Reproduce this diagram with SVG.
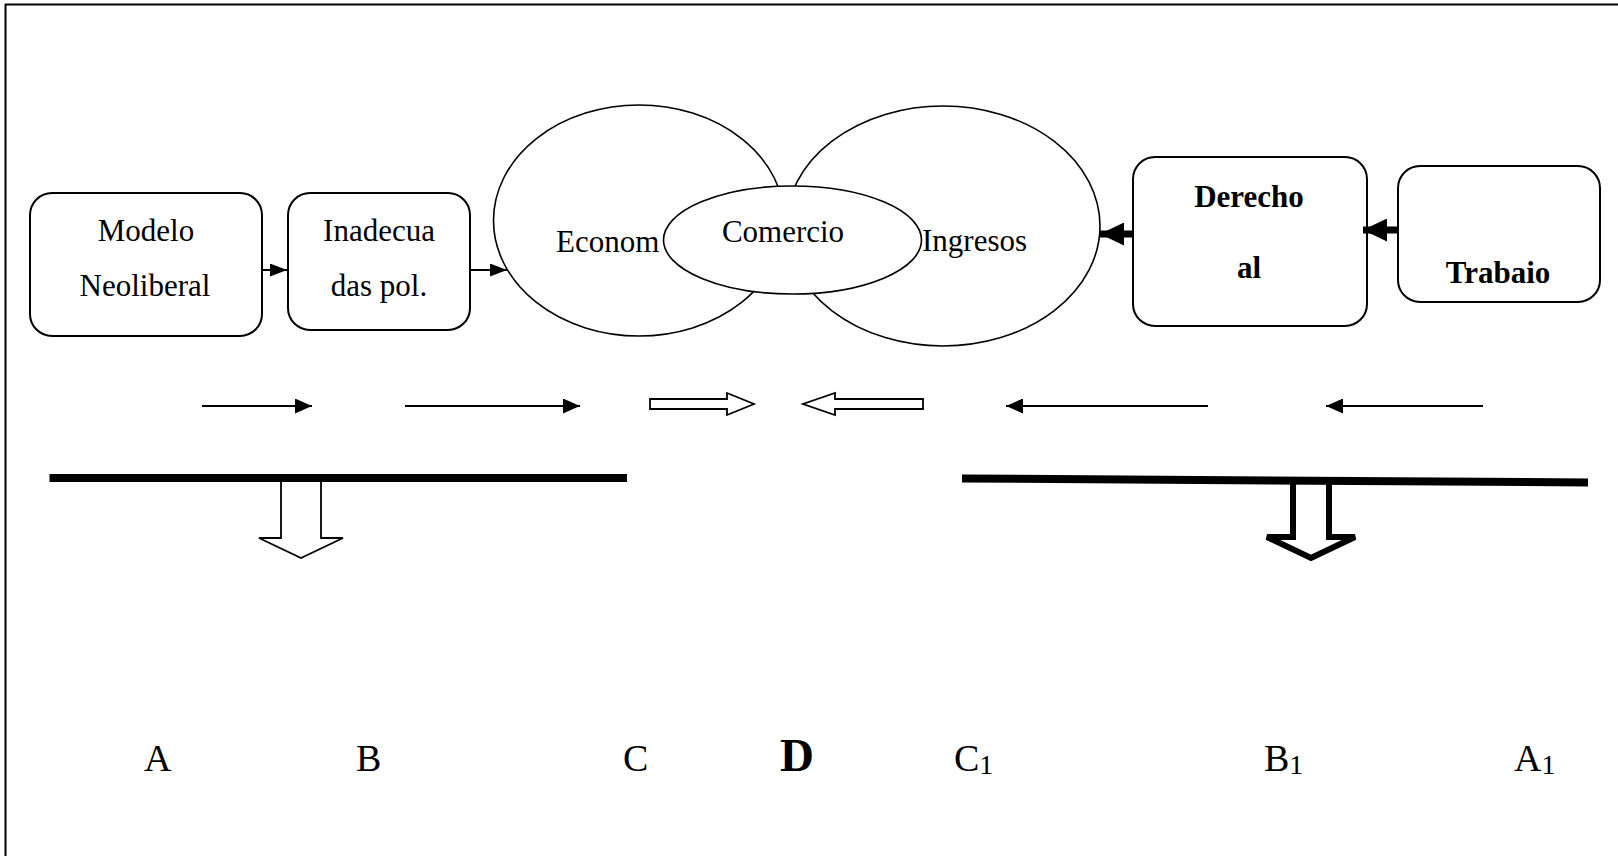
<svg xmlns="http://www.w3.org/2000/svg" width="1618" height="856" viewBox="0 0 1618 856">
<style>
  .bg { fill: #ffffff; }
  .frame { stroke: #000; stroke-width: 2; fill: none; }
  .box { fill: #fff; stroke: #000; stroke-width: 2; }
  .ell { fill: #fff; stroke: #000; stroke-width: 1.6; }
  .lbl { font-family: "Liberation Serif", "Times New Roman", serif; font-size: 31px; fill: #000; }
  .bold { font-weight: bold; }
  .mid { text-anchor: middle; }
  .big { font-family: "Liberation Serif", "Times New Roman", serif; font-size: 38px; fill: #000; }
  .sub { font-size: 28px; }
  .thin { stroke: #000; stroke-width: 2; fill: none; }
  .thick { stroke: #000; stroke-width: 7; fill: none; }
  .hollow { fill: #fff; stroke: #000; stroke-width: 1.8; stroke-linejoin: miter; }
  .hollowb { fill: #fff; stroke: #000; stroke-width: 6; stroke-linejoin: miter; }
  .bar { stroke: #000; stroke-width: 8; fill: none; }
</style>
<defs>
  <marker id="ah" markerUnits="userSpaceOnUse" markerWidth="17" markerHeight="15" refX="17" refY="7.5" orient="auto">
    <path d="M0,0 L17,7.5 L0,15 z" fill="#000"/>
  </marker>
  <marker id="ahs" markerUnits="userSpaceOnUse" markerWidth="17" markerHeight="13" refX="17" refY="6.5" orient="auto">
    <path d="M0,0 L17,6.5 L0,13 z" fill="#000"/>
  </marker>
  <marker id="ahb" markerUnits="userSpaceOnUse" markerWidth="24" markerHeight="23" refX="24" refY="11.5" orient="auto">
    <path d="M0,0 L24,11.5 L0,23 z" fill="#000"/>
  </marker>
</defs>
<rect class="bg" x="0" y="0" width="1618" height="856"/>
<g id="frame">
  <line class="frame" x1="5" y1="4.5" x2="1618" y2="4.5"/>
  <line class="frame" x1="5.5" y1="4" x2="5.5" y2="856"/>
</g>

<g id="node-modelo">
  <rect class="box" x="30" y="193" width="232" height="143" rx="22"/>
  <text class="lbl mid" x="146" y="241">Modelo</text>
  <text class="lbl mid" x="145" y="296">Neoliberal</text>
</g>
<g id="node-inadecua">
  <rect class="box" x="288" y="193" width="182" height="137" rx="22"/>
  <text class="lbl mid" x="379" y="241">Inadecua</text>
  <text class="lbl mid" x="379" y="296">das pol.</text>
</g>
<g id="node-economia">
  <ellipse class="ell" cx="639" cy="220.5" rx="145.5" ry="115.5"/>
  <text class="lbl" x="556" y="251.5">Econom</text>
</g>
<g id="node-ingresos">
  <ellipse class="ell" cx="943" cy="226" rx="157" ry="120"/>
  <text class="lbl" x="922" y="251">Ingresos</text>
</g>
<g id="node-comercio">
  <ellipse class="ell" cx="792.5" cy="240" rx="129" ry="54"/>
  <text class="lbl mid" x="783" y="241.5">Comercio</text>
</g>
<g id="node-derecho">
  <rect class="box" x="1133" y="157" width="234" height="169" rx="22"/>
  <text class="lbl bold mid" x="1249" y="207">Derecho</text>
  <text class="lbl bold mid" x="1249" y="278">al</text>
</g>
<g id="node-trabajo">
  <rect class="box" x="1398" y="166" width="202" height="136" rx="22"/>
  <text class="lbl bold mid" x="1498" y="283">Trabaio</text>
</g>

<g id="connectors">
  <line class="thin" x1="262" y1="270" x2="287" y2="270" marker-end="url(#ahs)"/>
  <line class="thin" x1="470" y1="270" x2="507" y2="270" marker-end="url(#ahs)"/>
  <line class="thick" x1="1133" y1="234" x2="1100" y2="234" marker-end="url(#ahb)"/>
  <line class="thick" x1="1398" y1="230" x2="1363" y2="230" marker-end="url(#ahb)"/>

  <line class="thin" x1="202" y1="406" x2="312" y2="406" marker-end="url(#ah)"/>
  <line class="thin" x1="405" y1="406" x2="580" y2="406" marker-end="url(#ah)"/>
  <line class="thin" x1="1208" y1="406" x2="1006" y2="406" marker-end="url(#ah)"/>
  <line class="thin" x1="1483" y1="406" x2="1326" y2="406" marker-end="url(#ah)"/>

  <polygon class="hollow" points="650,399 727,399 727,393 754,404 727,415 727,409 650,409"/>
  <polygon class="hollow" points="923,399 835,399 835,393 803,404 835,415 835,409 923,409"/>

  <polygon class="hollow" points="281,478 321,478 321,538 343,538 301,558 259,538 281,538"/>
  <polygon class="hollowb" points="1293,480 1329,480 1329,537 1355,537 1311,558 1267,537 1293,537"/>

  <line class="bar" x1="49.5" y1="478" x2="627" y2="478"/>
  <line class="bar" x1="962" y1="478.5" x2="1588" y2="482.5"/>
</g>

<g id="labels">
  <text class="big" x="144" y="771">A</text>
  <text class="big" x="356" y="771">B</text>
  <text class="big" x="623" y="771">C</text>
  <text class="big bold" x="780" y="771" style="font-size:47px">D</text>
  <text class="big" x="954" y="771">C<tspan class="sub" dy="3">1</tspan></text>
  <text class="big" x="1264" y="771">B<tspan class="sub" dy="3">1</tspan></text>
  <text class="big" x="1514" y="771">A<tspan class="sub" dy="3">1</tspan></text>
</g>
</svg>
